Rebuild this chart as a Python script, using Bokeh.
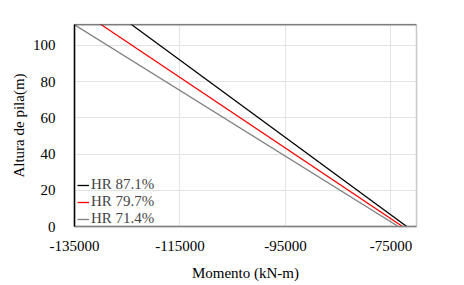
from bokeh.plotting import figure
from bokeh.models import FixedTicker, Span, Legend, LegendItem, NumeralTickFormatter
from bokeh.embed import file_html
from bokeh.resources import INLINE

height = [0, 112]
hr871 = [-72000, -124400]
hr797 = [-72800, -130200]
hr714 = [-73600, -135300]
labels = ["HR 87.1%", "HR 79.7%", "HR 71.4%"]
colors = ["#000000", "#ff0000", "#808080"]
x_ticks = [-135000, -115000, -95000, -75000]
y_ticks = [0, 20, 40, 60, 80, 100]

FONT = "Liberation Serif"

p = figure(width=464, height=285, output_backend="svg", toolbar_location=None,
           x_range=(-135000, -70150), y_range=(0, 111.6),
           min_border_left=74, min_border_right=48, min_border_top=24, min_border_bottom=59)

renderers = []
for xs, c in zip([hr871, hr797, hr714], colors):
    r = p.line(xs, height, line_color=c, line_width=1.3)
    renderers.append(r)

legend = Legend(items=[LegendItem(label=l, renderers=[r]) for l, r in zip(labels, renderers)],
                location=(3, -1), padding=0, margin=0, spacing=0,
                glyph_width=12, glyph_height=14, label_height=14, label_standoff=2,
                label_text_font=FONT, label_text_font_size="15px",
                border_line_color=None, background_fill_alpha=0)
p.add_layout(legend, "center")

p.xaxis.ticker = FixedTicker(ticks=x_ticks)
p.yaxis.ticker = FixedTicker(ticks=y_ticks)
p.xaxis.formatter = NumeralTickFormatter(format="0")
p.xaxis.axis_label = "Momento (kN-m)"
p.yaxis.axis_label = "Altura de pila(m)"

for ax in (p.xaxis, p.yaxis):
    ax.major_tick_line_color = None
    ax.minor_tick_line_color = None
    ax.major_label_text_font = FONT
    ax.major_label_text_font_size = "15px"
    ax.major_label_text_color = "#000000"
    ax.axis_label_text_font = FONT
    ax.axis_label_text_font_size = "15px"
    ax.axis_label_text_font_style = "normal"
    ax.axis_label_text_color = "#000000"

p.yaxis.axis_line_color = "#000000"
p.yaxis.axis_line_width = 1.5
p.yaxis.major_label_standoff = 13
p.yaxis.axis_label_standoff = 3
p.xaxis.axis_line_color = "#808080"
p.xaxis.axis_line_width = 1.5
p.xaxis.major_label_standoff = 8
p.xaxis.axis_label_standoff = 11

p.xgrid.grid_line_color = "#e3e3e3"
p.ygrid.grid_line_color = "#e3e3e3"
p.outline_line_color = "#c8c8c8"
p.outline_line_width = 1.5
p.add_layout(Span(location=111.6, dimension="width", line_color="#333333", line_width=1.5))

open("out.html", "w").write(file_html(p, INLINE))
